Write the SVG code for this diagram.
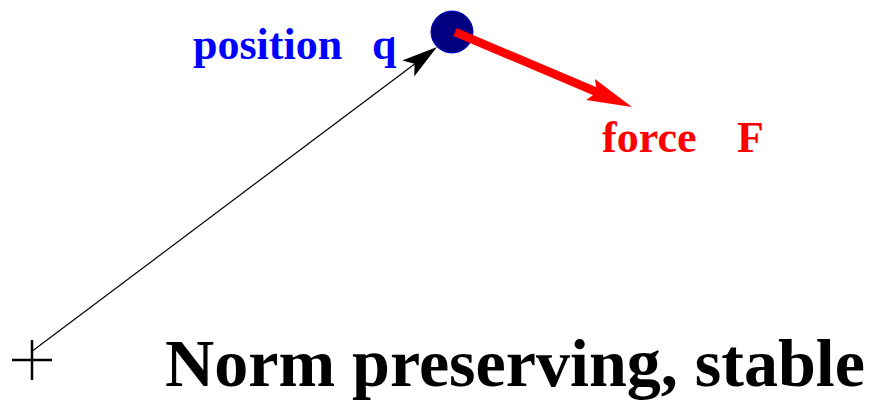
<svg xmlns="http://www.w3.org/2000/svg" width="872" height="406" viewBox="0 0 872 406">
<style>
.lbl{font-family:"Liberation Serif","Times New Roman",serif;font-weight:bold;}
.blue{fill:#0000ff;font-size:44px;}
.red{fill:#ff0000;font-size:44px;}
.big{fill:#000;font-size:68px;}
</style>
<rect width="872" height="406" fill="#fff"/>
<g id="origin">
<line x1="12" y1="360" x2="52" y2="360" stroke="#000" stroke-width="2.5"/>
<line x1="32" y1="340" x2="32" y2="380" stroke="#000" stroke-width="2.5"/>
</g>
<g id="connectors">
<line x1="31" y1="352" x2="416" y2="63" stroke="#000" stroke-width="1.2"/>
<polygon points="437,47 414.2,76.6 414.6,63.8 402.2,60.6" fill="#000"/>
</g>
<g id="particle">
<circle cx="452" cy="32" r="21" fill="#000080" stroke="#0000cc" stroke-width="1"/>
</g>
<g id="force-arrow">
<line x1="455" y1="32" x2="599" y2="93" stroke="#ff0000" stroke-width="8.5"/>
<polygon points="632,107 586.1,100 597,92.2 594.9,79" fill="#ff0000"/>
</g>
<g id="position-label">
<text class="lbl blue" y="59"><tspan x="193">position</tspan><tspan x="372">q</tspan></text>
</g>
<g id="force-label">
<text class="lbl red" y="152"><tspan x="602">force</tspan><tspan x="737">F</tspan></text>
</g>
<g id="caption">
<text class="lbl big" x="165" y="386" textLength="700" lengthAdjust="spacingAndGlyphs">Norm preserving, stable</text>
</g>
</svg>
